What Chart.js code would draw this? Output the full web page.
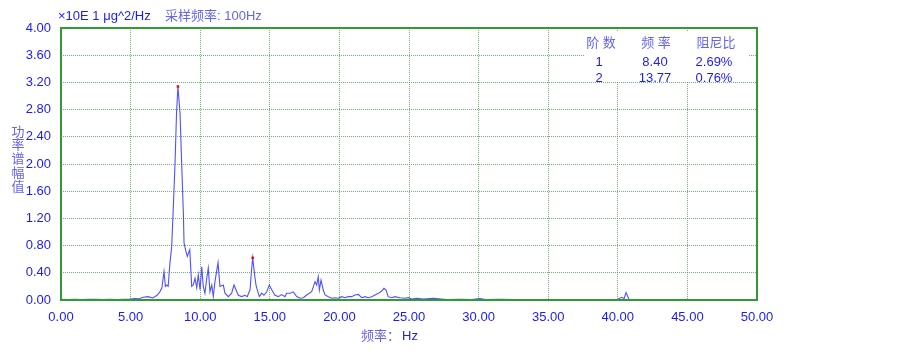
<!DOCTYPE html>
<html>
<head>
<meta charset="utf-8">
<script src="https://cdn.jsdelivr.net/npm/chart.js@4/dist/chart.umd.min.js"></script>
<style>
  html, body { margin: 0; padding: 0; background: #fff; }
  #wrap { width: 903px; height: 356px; position: relative; }
</style>
</head>
<body>
<div id="wrap"><canvas id="psdChart"></canvas></div>
<script>
// spectrum (Hz, x10E1 ug^2/Hz)
const freqHz = [
  0, 0.5, 1.0, 1.5, 2.0, 2.5, 3.0, 3.5, 4.0, 4.5, 5.0, 5.3, 5.6, 5.9, 6.25, 6.6, 6.9, 7.1, 7.25, 7.4,
  7.5, 7.6, 7.7, 7.83, 7.95, 8.07, 8.19, 8.3, 8.4, 8.55, 8.67, 8.79, 8.84, 8.98, 9.07, 9.25, 9.39, 9.5, 9.63, 9.75,
  9.86, 9.99, 10.11, 10.22, 10.34, 10.47, 10.58, 10.7, 10.83, 10.94, 11.06, 11.28, 11.42, 11.66, 11.78, 12.02, 12.26, 12.43, 12.57, 12.74,
  12.98, 13.22, 13.38, 13.58, 13.68, 13.77, 13.94, 14.01, 14.1, 14.25, 14.42, 14.58, 14.78, 14.96, 15.14, 15.37, 15.61, 15.85, 16.09, 16.21,
  16.45, 16.69, 16.93, 17.17, 17.41, 17.65, 18.01, 18.25, 18.37, 18.48, 18.56, 18.68, 18.84, 18.97, 19.2, 19.45, 19.68, 19.92, 20.17, 20.4,
  20.64, 20.88, 21.12, 21.36, 21.6, 21.84, 22.08, 22.32, 22.56, 22.79, 23.04, 23.2, 23.35, 23.51, 23.76, 23.99, 24.35, 24.71, 24.95, 25.19,
  25.55, 26.03, 26.75, 27.71, 28.66, 29.5, 30.1, 30.5, 31.5, 32.5, 33.5, 34.5, 35.5, 36.5, 37.5, 38.5, 39.5, 40.0, 40.28, 40.45,
  40.59, 40.8, 41.5, 42.5, 43.5, 44.5, 45.5, 46.5, 47.5, 48.5, 49.5, 50
];
const psdVals = [
  0.01, 0.005, 0.01, 0.005, 0.01, 0.012, 0.008, 0.01, 0.006, 0.012, 0.015, 0.02, 0.018, 0.04, 0.05, 0.03, 0.07, 0.12, 0.18, 0.42,
  0.2, 0.22, 0.2, 0.55, 0.78, 1.37, 2.0, 2.75, 3.14, 2.75, 2.0, 1.28, 0.84, 0.71, 0.64, 0.74, 0.2, 0.22, 0.32, 0.18,
  0.37, 0.15, 0.49, 0.2, 0.1, 0.32, 0.47, 0.12, 0.22, 0.05, 0.27, 0.55, 0.2, 0.22, 0.1, 0.05, 0.1, 0.22, 0.15, 0.07,
  0.05, 0.07, 0.05, 0.15, 0.42, 0.62, 0.32, 0.22, 0.15, 0.05, 0.1, 0.07, 0.12, 0.22, 0.15, 0.07, 0.05, 0.08, 0.05, 0.1,
  0.1, 0.12, 0.05, 0.025, 0.034, 0.074, 0.123, 0.27, 0.22, 0.343, 0.147, 0.294, 0.147, 0.074, 0.049, 0.025, 0.034, 0.025, 0.049, 0.034,
  0.049, 0.049, 0.074, 0.083, 0.034, 0.049, 0.034, 0.049, 0.074, 0.098, 0.132, 0.172, 0.147, 0.049, 0.034, 0.049, 0.034, 0.025, 0.034, 0.015,
  0.025, 0.015, 0.025, 0.005, 0.01, 0.005, 0.02, 0.005, 0.01, 0.005, 0.008, 0.004, 0.008, 0.005, 0.006, 0.005, 0.006, 0.01, 0.04, 0.02,
  0.11, 0.01, 0.005, 0.006, 0.004, 0.005, 0.004, 0.005, 0.004, 0.004, 0.003, 0.003
];

// identified modes (table at top right + red markers)
const modeOrder = ['1', '2'];
const modeFreq = [8.40, 13.77];
const modePeak = [3.14, 0.62];
const modeDamping = ['2.69%', '0.76%'];

const xTicks = [0, 5, 10, 15, 20, 25, 30, 35, 40, 45, 50];
const yTicks = [0, 0.4, 0.8, 1.2, 1.6, 2.0, 2.4, 2.8, 3.2, 3.6, 4.0];

const BLUE = '#1a1aff';
const LIGHT = '#6464f0';
const FONT = 'Arial, "Liberation Sans", "Noto Sans CJK SC", sans-serif';

const overlay = {
  id: 'overlay',
  afterDraw(chart) {
    const ctx = chart.ctx;
    const a = chart.chartArea;
    ctx.save();

    // solid frame
    ctx.strokeStyle = '#339933';
    ctx.lineWidth = 2;
    ctx.strokeRect(a.left, a.top, a.right - a.left, a.bottom - a.top);

    // header
    ctx.textBaseline = 'middle';
    ctx.textAlign = 'left';
    ctx.font = '13px ' + FONT;
    ctx.fillStyle = BLUE;
    ctx.fillText('×10E 1 μg^2/Hz', 58, 16);
    ctx.fillStyle = LIGHT;
    ctx.fillText('采样频率: 100Hz', 165, 16);

    // y title, one char per line
    ctx.textAlign = 'center';
    ctx.font = '13px ' + FONT;
    '功率谱幅值'.split('').forEach((c, i) => ctx.fillText(c, 18, 132 + i * 13.8));

    // x title
    ctx.textAlign = 'left';
    ctx.fillText('频率：', 361, 336);
    ctx.fillStyle = BLUE;
    ctx.fillText('Hz', 402, 336);

    // mode table
    ctx.fillStyle = '#ffffff';
    ctx.fillRect(585, 32, 163, 49);
    ctx.textAlign = 'center';
    ctx.fillStyle = LIGHT;
    ctx.fillText('阶 数', 601, 43);
    ctx.fillText('频 率', 656, 43);
    ctx.fillText('阻尼比', 716, 43);
    ctx.fillStyle = BLUE;
    modeOrder.forEach((m, i) => {
      const y = 62 + i * 16.5;
      ctx.fillText(m, 599, y);
      ctx.fillText(modeFreq[i].toFixed(2), 655, y);
      ctx.fillText(modeDamping[i], 714, y);
    });
    ctx.restore();
  }
};

new Chart(document.getElementById('psdChart'), {
  type: 'line',
  data: {
    datasets: [
      {
        data: freqHz.map((f, i) => ({ x: f, y: psdVals[i] })),
        borderColor: '#5050ff',
        borderWidth: 1.1,
        pointRadius: 0,
        tension: 0,
        order: 2
      },
      {
        data: modeFreq.map((f, i) => ({ x: f, y: modePeak[i] })),
        showLine: false,
        pointStyle: 'rect',
        pointRadius: 1.8,
        borderWidth: 0,
        backgroundColor: '#ff0000',
        order: 1
      }
    ]
  },
  options: {
    responsive: true,
    maintainAspectRatio: false,
    animation: false,
    events: [],
    layout: { padding: { top: 28, right: 146, left: 0, bottom: 0 } },
    plugins: {
      legend: { display: false },
      tooltip: { enabled: false }
    },
    scales: {
      x: {
        type: 'linear',
        min: 0,
        max: 50,
        afterFit: (s) => { s.height = 56; },
        afterBuildTicks: (s) => { s.ticks = xTicks.map(v => ({ value: v })); },
        ticks: {
          padding: 10,
          maxRotation: 0,
          color: BLUE,
          font: { family: FONT, size: 13 },
          callback: (v) => Number(v).toFixed(2)
        },
        grid: { color: 'rgba(60,160,60,0.75)', lineWidth: 1, drawTicks: false },
        border: { display: false, dash: [1, 1] }
      },
      y: {
        min: 0,
        max: 4,
        afterFit: (s) => { s.width = 61; },
        afterBuildTicks: (s) => { s.ticks = yTicks.map(v => ({ value: v })); },
        ticks: {
          padding: 10,
          color: BLUE,
          font: { family: FONT, size: 13 },
          callback: (v) => Number(v).toFixed(2)
        },
        grid: { color: 'rgba(60,160,60,0.75)', lineWidth: 1, drawTicks: false },
        border: { display: false, dash: [1, 1] }
      }
    }
  },
  plugins: [overlay]
});
</script>
</body>
</html>
